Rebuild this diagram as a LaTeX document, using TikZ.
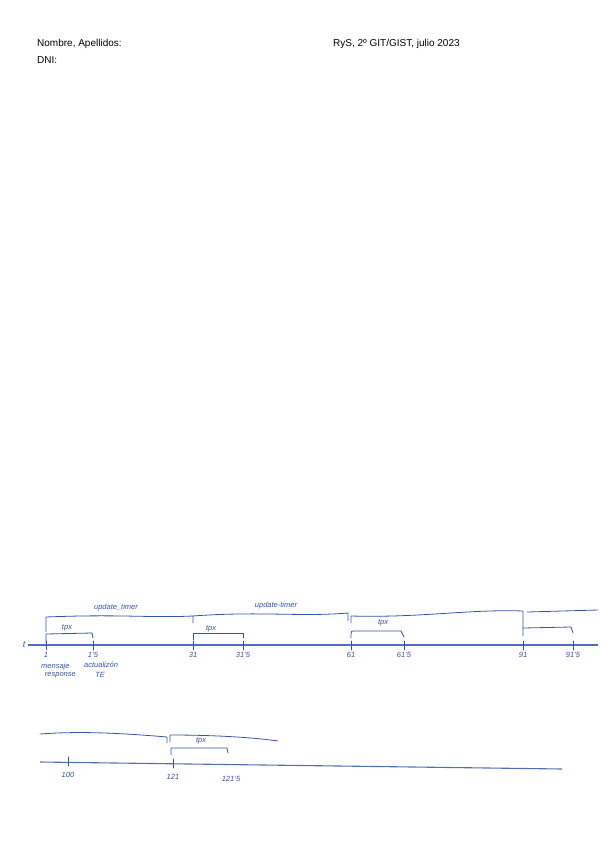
\documentclass[tikz,border=0pt]{standalone}
\usepackage{fontspec}
\setmainfont{Liberation Sans}
\usetikzlibrary{positioning}
\definecolor{inkBlue}{RGB}{52,84,170}

\begin{document}
\begin{tikzpicture}[
  x=1pt, y=-1pt,
  ink/.style={draw=inkBlue, line width=0.8pt, line cap=round, line join=round},
  axis/.style={draw=inkBlue!85, line width=1.1pt},
  hand/.style={text=inkBlue, font=\fontsize{7.5}{8.5}\selectfont\itshape, inner sep=1pt},
  head/.style={font=\fontsize{10}{12}\selectfont, anchor=base west, inner sep=0pt}
]
  \useasboundingbox (0,0) rectangle (600,848);

  % cabecera
  \node[head] (nombre) at (37,47) {Nombre, Apellidos:};
  \node[head] (curso) at (333,47) {RyS, 2º GIT/GIST, julio 2023};
  \node[head] (dni) at (37,64) {DNI:};

  % primer eje de tiempos
  \node[hand, font=\fontsize{9}{10}\selectfont\itshape, inner sep=3pt] (t) at (24,645) {t};
  \coordinate (fin) at (598,645);
  \draw[axis] (t) -- (fin);
  \foreach \x/\lab/\nm in {46/1/p1, 93/1'5/p2, 193/31/p3, 243/31'5/p4,
                           351/61/p5, 404/61'5/p6, 523/91/p7, 573/91'5/p8} {
    \coordinate (\nm) at (\x,645);
    \draw[ink] (\x,641) -- (\x,650);
    \node[hand, below=6pt of \nm] (l\nm) {\lab};
  }
  \node[hand, anchor=north west] (msg) at (40,662) {mensaje};
  \node[hand, below=0pt of msg.south, xshift=5pt] (resp) {response};
  \node[hand, anchor=north west] (act) at (83,661) {actualiz\'on};
  \node[hand, below=2pt of act.south, xshift=-1pt] (te) {TE};

  % update_timer
  \draw[ink] (46,632) -- (46,617) .. controls (120,614) and (150,618) .. (193,616) -- (193,623);
  \node[hand] (ut1) at (116,608) {update\_timer};
  \draw[ink] (193,616) .. controls (260,611) and (300,617) .. (348,613) -- (348,621);
  \node[hand] (ut2) at (276,606) {update-timer};
  \draw[ink] (351,623) -- (351,616) .. controls (420,618) and (470,609) .. (523,611) -- (523,636);
  \draw[ink] (527,612) -- (598,610);

  % tpx
  \draw[ink] (46,643) -- (46,634) -- (92,633) -- (93,638);
  \node[hand] (tp1) at (67,628) {tpx};
  \draw[ink] (193,640) -- (193,633) -- (243,633) -- (243,638);
  \node[hand] (tp2) at (211,629) {tpx};
  \draw[ink] (351,638) -- (351,634) .. controls (351,631) .. (356,631) -- (401,631) -- (404,637);
  \node[hand] (tp3) at (383,623) {tpx};
  \draw[ink] (523,628) -- (571,627) -- (573,633);

  % segundo eje de tiempos
  \coordinate (b0) at (40,762);
  \coordinate (b1) at (562,769);
  \draw[axis] (b0) -- (b1);
  \foreach \x/\y/\lab/\nm in {68/762/100/q1, 173/764/121/q2} {
    \coordinate (\nm) at (\x,\y);
    \draw[ink] (\x,\y-5) -- (\x,\y+4);
    \node[hand, below=9pt of \nm] (l\nm) {\lab};
  }
  \node[hand] (lq3) at (231,779) {121'5};
  \draw[ink] (40,734) .. controls (80,731) and (120,733) .. (167,737) -- (167,743);
  \draw[ink] (170,742) -- (170,735) .. controls (210,735) and (250,737) .. (278,741);
  \draw[ink] (171,755) -- (171,748) -- (227,748) -- (228,753);
  \node[hand] (tp4) at (201,741) {tpx};
\end{tikzpicture}
\end{document}
